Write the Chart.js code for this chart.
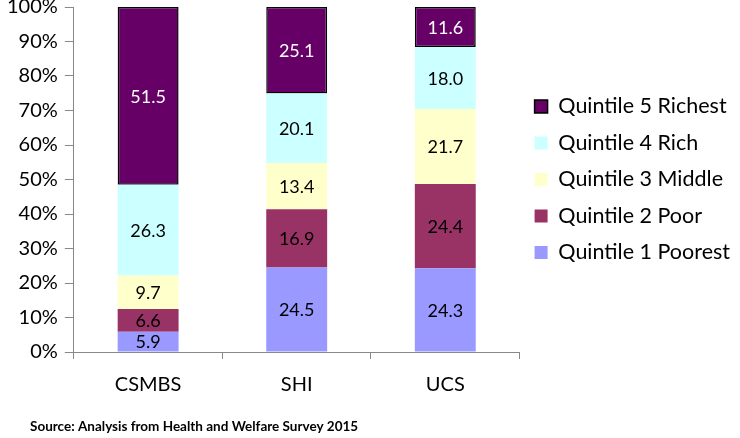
<!DOCTYPE html>
<html>
<head>
<meta charset="utf-8">
<script src="https://cdn.jsdelivr.net/npm/chart.js@4.4.1/dist/chart.umd.min.js"></script>
<style>
  html, body { margin: 0; padding: 0; background: #fff; }
  #wrap { width: 740px; height: 438px; position: relative; }
</style>
</head>
<body>
<div id="wrap"><canvas id="myChart" width="740" height="438"></canvas></div>
<script>
const categories = ['CSMBS', 'SHI', 'UCS'];
const q1Poorest = [5.9, 24.5, 24.3];
const q2Poor = [6.6, 16.9, 24.4];
const q3Middle = [9.7, 13.4, 21.7];
const q4Rich = [26.3, 20.1, 18.0];
const q5Richest = [51.5, 25.1, 11.6];
const yTicks = [0, 10, 20, 30, 40, 50, 60, 70, 80, 90, 100];
const sourceNote = 'Source: Analysis from Health and Welfare Survey 2015';

const FONT = 'Lato';

// draws the numbers in the middle of each stacked piece
const segmentLabels = {
  id: 'segmentLabels',
  afterDatasetsDraw(chart) {
    const c = chart.ctx;
    c.save();
    c.font = '18px ' + FONT;
    c.textAlign = 'center';
    c.textBaseline = 'middle';
    chart.data.datasets.forEach((ds, i) => {
      const meta = chart.getDatasetMeta(i);
      meta.data.forEach((bar, j) => {
        const p = bar.getProps(['x', 'y', 'base'], true);
        c.fillStyle = ds.labelColor;
        c.fillText(ds.data[j].toFixed(1), p.x, (p.y + p.base) / 2 + 1);
      });
    });
    c.restore();
  }
};

// keep the legend centred on the plot area, not on the whole canvas height
const legendToPlot = {
  id: 'legendToPlot',
  afterLayout(chart) {
    if (!chart.legend) return;
    chart.legend.top = chart.chartArea.top;
    chart.legend.bottom = chart.chartArea.bottom;
  }
};

const sourceText = {
  id: 'sourceText',
  afterDraw(chart) {
    const c = chart.ctx;
    c.save();
    c.font = 'bold 13.5px ' + FONT;
    c.fillStyle = '#000';
    c.textBaseline = 'middle';
    c.fillText(sourceNote, 30, 427);
    c.restore();
  }
};

const ctx = document.getElementById('myChart');

new Chart(ctx, {
  type: 'bar',
  data: {
    labels: categories,
    datasets: [
      { label: 'Quintile 1 Poorest', data: q1Poorest, backgroundColor: '#9999FF', borderWidth: 0, labelColor: '#000' },
      { label: 'Quintile 2 Poor', data: q2Poor, backgroundColor: '#993366', borderWidth: 0, labelColor: '#000' },
      { label: 'Quintile 3 Middle', data: q3Middle, backgroundColor: '#FFFFCC', borderWidth: 0, labelColor: '#000' },
      { label: 'Quintile 4 Rich', data: q4Rich, backgroundColor: '#CCFFFF', borderWidth: 0, labelColor: '#000' },
      { label: 'Quintile 5 Richest', data: q5Richest, backgroundColor: '#660066', borderColor: '#000', borderWidth: 1.5, borderSkipped: false, labelColor: '#fff' }
    ]
  },
  options: {
    responsive: false,
    animation: false,
    layout: { padding: { top: 0, bottom: 27, left: 0, right: 0 } },
    datasets: { bar: { categoryPercentage: 1, barPercentage: 0.41 } },
    scales: {
      x: {
        stacked: true,
        grid: { display: true, drawOnChartArea: false, drawTicks: true, tickLength: 7, color: '#888', offset: true },
        border: { display: true, color: '#888', width: 1 },
        ticks: { color: '#000', padding: 14, font: { family: FONT, size: 20 } }
      },
      y: {
        stacked: true,
        min: 0,
        max: 100,
        afterBuildTicks(axis) { axis.ticks = yTicks.map(v => ({ value: v })); },
        grid: { display: true, drawOnChartArea: false, drawTicks: true, tickLength: 9, color: '#888' },
        border: { display: true, color: '#888', width: 1 },
        ticks: { color: '#000', padding: 7, font: { family: FONT, size: 20, lineHeight: 0 }, callback: v => v + '%' }
      }
    },
    plugins: {
      tooltip: { enabled: false },
      legend: {
        position: 'right',
        reverse: true,
        maxWidth: 250,
        labels: {
          color: '#000',
          boxWidth: 13,
          boxHeight: 13,
          padding: 15,
          font: { family: FONT, size: 21.5 }
        }
      }
    }
  },
  plugins: [segmentLabels, legendToPlot, sourceText]
});
</script>
</body>
</html>
